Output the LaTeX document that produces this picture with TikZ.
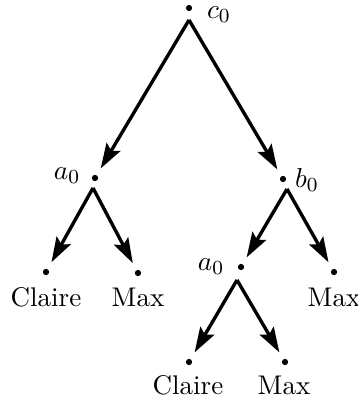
\documentclass[tikz,border=0pt]{standalone}
\usetikzlibrary{arrows.meta}
\begin{document}
\begin{tikzpicture}[x=0.4pt,y=-0.4pt,
  vdot/.style={circle,fill=black,inner sep=0pt,minimum size=2.5pt},
  arr/.style={line width=1.35pt,-{Stealth[length=10pt,width=6.4pt,inset=1.8pt]},shorten >=3pt},
  lab/.style={inner sep=0pt,font=\fontsize{10.8}{12}\selectfont}]
\useasboundingbox (0,0) rectangle (358,400);
% vertices
\node[vdot] (c0) at (189,8) {};
\node[vdot] (a0) at (95,178) {};
\node[vdot] (b0) at (283,179) {};
\node[vdot] (cl1) at (46,272) {};
\node[vdot] (mx1) at (138,273) {};
\node[vdot] (a1) at (241,267) {};
\node[vdot] (mx2) at (334,272) {};
\node[vdot] (cl2) at (189,362) {};
\node[vdot] (mx3) at (285,362) {};
% branch starts
\coordinate (c0s) at (189,20);
\coordinate (a0s) at (93,188);
\coordinate (b0s) at (287,189);
\coordinate (a1s) at (237,280);
% labels
\node[lab] (lc0) at (219,15) {$c_0$};
\node[lab] (la0) at (67,176) {$a_0$};
\node[lab] (lb0) at (307,180) {$b_0$};
\node[lab] (la1) at (211,267) {$a_0$};
\node[lab] (tcl1) at (46,297) {Claire};
\node[lab] (tmx1) at (138,297) {Max};
\node[lab] (tmx2) at (334,297) {Max};
\node[lab] (tcl2) at (188,385) {Claire};
\node[lab] (tmx3) at (284,385) {Max};
% arrows
\draw[arr] (c0s) -- (a0);
\draw[arr] (c0s) -- (b0);
\draw[arr] (a0s) -- (cl1);
\draw[arr] (a0s) -- (mx1);
\draw[arr] (b0s) -- (a1);
\draw[arr] (b0s) -- (mx2);
\draw[arr] (a1s) -- (cl2);
\draw[arr] (a1s) -- (mx3);
\end{tikzpicture}
\end{document}
